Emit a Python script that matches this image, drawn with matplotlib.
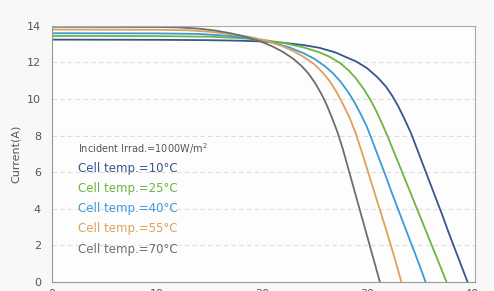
import matplotlib.pyplot as plt

# I-V curves: voltage (V) and current (A) per cell temperature
temps = ["10", "25", "40", "55", "70"]
colors = ["#36568c", "#6fb443", "#3a9bd5", "#dba25a", "#6e6e6e"]

v_10 = [0, 10, 15, 18, 20, 22, 24, 25.5, 27, 28, 29, 30, 31, 31.8, 32.4, 33, 33.6,
        34.2, 34.8, 35.4, 36, 36.6, 37.2, 37.8, 38.4, 39, 39.6]
i_10 = [13.25, 13.24, 13.22, 13.19, 13.15, 13.08, 12.95, 12.8, 12.55, 12.3, 12.05, 11.7,
        11.2, 10.7, 10.2, 9.6, 8.9, 8.15, 7.25, 6.35, 5.45, 4.55, 3.65, 2.7, 1.8, 0.9, 0.0]

v_25 = [0, 10, 15, 18, 20, 22, 24, 25.5, 26.5, 27.5, 28.3, 29, 29.7, 30.3, 30.9, 31.5,
        32.1, 32.7, 33.3, 33.9, 34.5, 35.1, 35.7, 36.3, 36.9, 37.6]
i_25 = [13.45, 13.44, 13.41, 13.33, 13.24, 13.08, 12.82, 12.55, 12.3, 11.95, 11.55, 11.1,
        10.55, 10.0, 9.35, 8.6, 7.8, 6.95, 6.1, 5.25, 4.4, 3.55, 2.7, 1.85, 1.0, 0.0]

v_40 = [0, 10, 14, 17, 19, 21, 22.5, 24, 25, 26, 26.8, 27.5, 28.2, 28.8, 29.4, 30,
        30.6, 31.2, 31.8, 32.4, 33, 33.6, 34.2, 34.9, 35.6]
i_40 = [13.6, 13.59, 13.56, 13.45, 13.3, 13.08, 12.85, 12.5, 12.2, 11.8, 11.4, 10.95,
        10.4, 9.85, 9.2, 8.5, 7.6, 6.7, 5.8, 4.85, 3.95, 3.05, 2.15, 1.1, 0.0]

v_55 = [0, 10, 13, 15, 17, 19, 20.5, 22, 23, 24, 25, 25.8, 26.5, 27.1, 27.7, 28.3,
        28.9, 29.5, 30.1, 30.7, 31.3, 31.9, 32.5, 33.3]
i_55 = [13.8, 13.79, 13.76, 13.68, 13.55, 13.38, 13.18, 12.88, 12.62, 12.3, 11.9, 11.45,
        10.95, 10.4, 9.75, 9.05, 8.2, 7.15, 6.05, 4.95, 3.85, 2.75, 1.6, 0.0]

v_70 = [0, 10, 12, 14, 15.5, 17, 18.5, 20, 21, 22, 23, 23.8, 24.5, 25.1, 25.7, 26.2,
        26.7, 27.2, 27.7, 28.3, 28.9, 29.5, 30.1, 30.7, 31.25]
i_70 = [13.95, 13.94, 13.92, 13.85, 13.75, 13.6, 13.4, 13.12, 12.88, 12.58, 12.2, 11.8,
        11.35, 10.85, 10.25, 9.65, 8.95, 8.2, 7.3, 6.07, 4.83, 3.6, 2.37, 1.13, 0.0]

volts = [v_10, v_25, v_40, v_55, v_70]
amps = [i_10, i_25, i_40, i_55, i_70]

fig = plt.figure(figsize=(4.94, 2.91), dpi=100, facecolor="#f8f8f8")
ax = fig.add_axes([0.1053, 0.031, 0.856, 0.880])
ax.set_facecolor("#fdfdfd")

for v, i, c in zip(volts, amps, colors):
    ax.plot(v, i, color=c, lw=1.3, solid_joinstyle="round", solid_capstyle="round")

ax.set_xlim(0, 40.3)
ax.set_ylim(0, 14)
ax.set_yticks(range(0, 15, 2))
ax.set_xticks([0, 10, 20, 30, 40])
ax.tick_params(length=0, labelsize=8, labelcolor="#555555", pad=8)
ax.tick_params(axis="x", pad=5)
ax.yaxis.grid(True, ls=(0, (4, 3)), color="#dddddd", lw=0.8)
ax.set_axisbelow(True)

for side in ["top", "right"]:
    ax.spines[side].set_color("#aaaaaa")
ax.spines["left"].set_color("#999999")
ax.spines["bottom"].set_color("#999999")

ax.set_ylabel("Current(A)", fontsize=8, color="#555555", labelpad=4)

ax.text(2.5, 7.3, "Incident Irrad.=1000W/m$^2$", fontsize=7, color="#555555", va="center")
for k, (t, c) in enumerate(zip(temps, colors)):
    ax.text(2.5, 6.2 - 1.1 * k, "Cell temp.=" + t + "°C", fontsize=8.5, color=c, va="center")

fig.savefig("out.png", dpi=100, facecolor=fig.get_facecolor())
